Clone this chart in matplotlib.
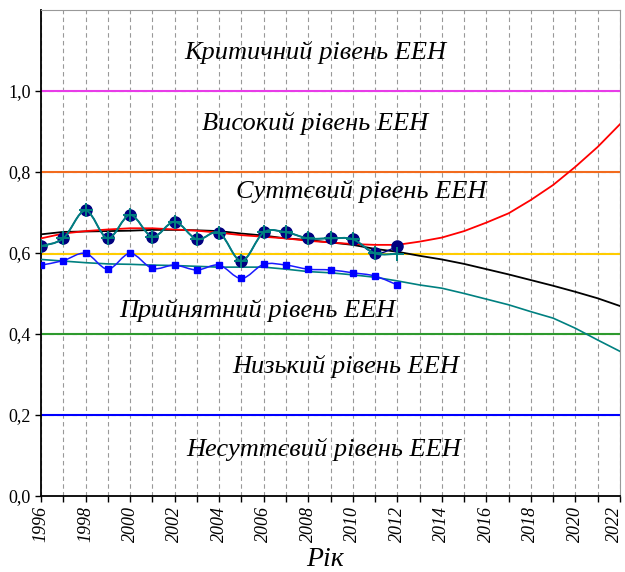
import matplotlib
matplotlib.use("Agg")
import matplotlib.pyplot as plt
import matplotlib.transforms as mtransforms
from matplotlib.path import Path
from matplotlib.patches import PathPatch
from matplotlib.ticker import MultipleLocator

# -------------------------------
# Données
# -------------------------------
years_fact = list(range(1996, 2013))
years_all = list(range(1996, 2023))

actual = [0.617, 0.636, 0.705, 0.636, 0.694, 0.640, 0.677, 0.634, 0.650,
          0.580, 0.651, 0.651, 0.636, 0.636, 0.634, 0.599, 0.616]
fitted = [0.617, 0.636, 0.705, 0.636, 0.694, 0.640, 0.677, 0.634, 0.650,
          0.580, 0.651, 0.651, 0.636, 0.636, 0.634, 0.599, 0.598]
second = [0.570, 0.581, 0.599, 0.560, 0.599, 0.562, 0.570, 0.558, 0.570,
          0.537, 0.572, 0.570, 0.560, 0.558, 0.551, 0.543, 0.521]

trend_red = [0.636, 0.648, 0.654, 0.658, 0.661, 0.661, 0.658, 0.655, 0.650,
             0.644, 0.640, 0.636, 0.630, 0.626, 0.622, 0.620, 0.620, 0.628,
             0.638, 0.654, 0.675, 0.698, 0.731, 0.768, 0.813, 0.862, 0.918]
trend_black = [0.646, 0.652, 0.653, 0.654, 0.655, 0.657, 0.657, 0.656, 0.654,
               0.648, 0.643, 0.636, 0.632, 0.626, 0.620, 0.610, 0.603, 0.593,
               0.584, 0.573, 0.560, 0.547, 0.533, 0.519, 0.504, 0.488, 0.469]
trend_teal = [0.584, 0.580, 0.576, 0.573, 0.572, 0.570, 0.569, 0.567, 0.565,
              0.565, 0.565, 0.560, 0.554, 0.551, 0.546, 0.540, 0.531, 0.521,
              0.513, 0.500, 0.486, 0.472, 0.455, 0.439, 0.414, 0.385, 0.357]

levels = [1.0, 0.8, 0.597, 0.4, 0.2]
level_colors = ["#E83CE8", "#F26B1D", "#FFCC00", "#2E9A2E", "#0000FF"]

zone_labels = ["Критичний рівень ЕЕН", "Високий рівень ЕЕН", "Суттєвий рівень ЕЕН",
               "Прийнятний рівень ЕЕН", "Низький рівень ЕЕН", "Несуттєвий рівень ЕЕН"]
zone_x = [2008.3, 2008.3, 2010.4, 2005.7, 2009.7, 2008.7]
zone_y = [1.096, 0.919, 0.751, 0.459, 0.319, 0.114]

ytick_vals = [0, 0.2, 0.4, 0.6, 0.8, 1.0]
ytick_labels = ["0,0", "0,2", "0,4", "0,6", "0,8", "1,0"]
xtick_vals = list(range(1996, 2023, 2))

# -------------------------------
# Fonctions utilitaires
# -------------------------------

def smooth_path(xs, ys):
    """Courbe lissée façon Excel (Bézier entre les points mesurés)."""
    verts = [(xs[0], ys[0])]
    codes = [Path.MOVETO]
    n = len(xs)
    for i in range(n - 1):
        x0, y0 = (xs[i - 1], ys[i - 1]) if i > 0 else (xs[i], ys[i])
        x1, y1 = xs[i], ys[i]
        x2, y2 = xs[i + 1], ys[i + 1]
        x3, y3 = (xs[i + 2], ys[i + 2]) if i + 2 < n else (x2, y2)
        c1 = (x1 + (x2 - x0) / 6, y1 + (y2 - y0) / 6)
        c2 = (x2 - (x3 - x1) / 6, y2 - (y3 - y1) / 6)
        verts += [c1, c2, (x2, y2)]
        codes += [Path.CURVE4] * 3
    return Path(verts, codes)


def add_smooth(ax, xs, ys, color, lw, z):
    ax.add_patch(PathPatch(smooth_path(xs, ys), facecolor="none",
                           edgecolor=color, lw=lw, zorder=z))


# -------------------------------
# Figure
# -------------------------------
serif = "Liberation Serif"

fig = plt.figure(figsize=(6.25, 5.72), dpi=100)
ax = fig.add_axes([0.0656, 0.133, 0.9264, 0.8495])

ax.set_xlim(1996, 2022)
ax.set_ylim(0, 1.2)

ax.xaxis.set_minor_locator(MultipleLocator(1))
ax.grid(True, which="both", axis="x", color="#999999", ls=(0, (4, 3)), lw=0.8)
ax.grid(True, which="major", axis="y", color="#999999", ls=(0, (4, 3)), lw=0.8)
ax.set_axisbelow(True)

for lv, c in zip(levels, level_colors):
    ax.axhline(lv, color=c, lw=1.5, zorder=2)

ax.plot(years_all, trend_teal, color="#008080", lw=1.2, zorder=3)
ax.plot(years_all, trend_black, color="black", lw=1.3, zorder=3)
ax.plot(years_all, trend_red, color="#FF0000", lw=1.3, zorder=3)

add_smooth(ax, years_fact, second, "#1A1AFF", 1.1, 4)
ax.plot(years_fact, second, ls="none", marker="s", ms=5, color="#0000FF", zorder=5)

add_smooth(ax, years_fact, actual, "#000080", 1.0, 4)
ax.plot(years_fact, actual, ls="none", marker="o", ms=8, color="#000080", zorder=5)
add_smooth(ax, years_fact, fitted, "#008080", 1.4, 6)
ax.plot(years_fact, fitted, ls="none", marker="+", ms=10, mew=1.4,
        color="#008080", zorder=7)

for txt, x, y in zip(zone_labels, zone_x, zone_y):
    ax.text(x, y, txt, ha="center", va="center", fontsize=19,
            family=serif, style="italic", zorder=8)

ax.set_yticks(ytick_vals)
ax.set_yticklabels(ytick_labels, family=serif, fontsize=13)
ax.set_xticks(xtick_vals)
ax.set_xticklabels([str(y) for y in xtick_vals], rotation=90,
                   family=serif, style="italic", fontsize=13)
ax.tick_params(axis="both", which="both", direction="out", length=4, width=1)

# le dernier label (2022) est décalé pour rester dans l'image
last = ax.get_xticklabels()[-1]
last.set_transform(last.get_transform()
                   + mtransforms.ScaledTranslation(-6 / 100, 0, fig.dpi_scale_trans))

fig.text(0.52, 0.022, "Рік", family=serif, style="italic", fontsize=20,
         ha="center", va="center")

for s in ["left", "bottom"]:
    ax.spines[s].set_color("black")
    ax.spines[s].set_linewidth(1.3)
for s in ["top", "right"]:
    ax.spines[s].set_color("#999999")
    ax.spines[s].set_linewidth(0.8)

fig.savefig("out.png", dpi=100)
